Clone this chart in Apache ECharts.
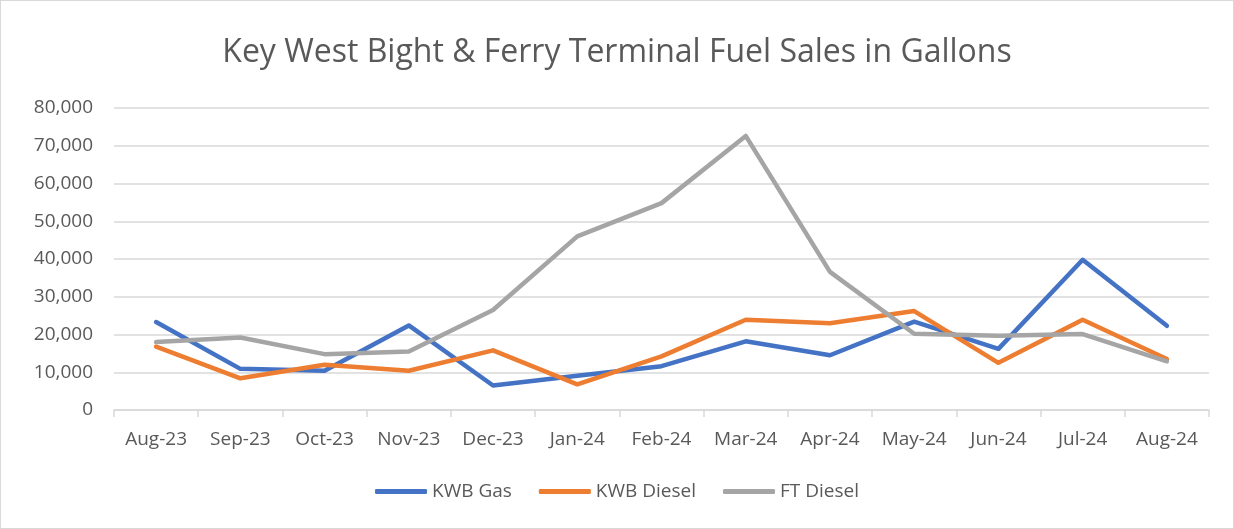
<!DOCTYPE html>
<html><head><meta charset="utf-8">
<script src="https://cdn.jsdelivr.net/npm/echarts@6/dist/echarts.min.js"></script>
<style>html,body{margin:0;padding:0;background:#fff}#c{width:1234px;height:529px;box-sizing:border-box;border:1px solid #d9d9d9}</style>
</head><body><div id="c"></div>
<script>
const categories = ['Aug-23','Sep-23','Oct-23','Nov-23','Dec-23','Jan-24','Feb-24','Mar-24','Apr-24','May-24','Jun-24','Jul-24','Aug-24'];
const kwbGas    = [23300,10900,10400,22400,6500,9100,11600,18200,14500,23400,16200,39800,22300];
const kwbDiesel = [16800,8400,12000,10400,15800,6800,14200,23900,23000,26200,12500,23900,13500];
const ftDiesel  = [18000,19200,14800,15500,26500,46000,54800,72600,36600,20200,19700,20100,12900];
const seriesNames = ['KWB Gas','KWB Diesel','FT Diesel'];
const colors = ['#4472c4','#ed7d31','#a5a5a5'];
const font = 'Open Sans, Noto Sans, sans-serif';
const chart = echarts.init(document.getElementById('c'));
const mk = (name, data, i) => ({name, type:'line', data, symbol:'none', smooth:false,
  lineStyle:{width:4.5, color:colors[i], cap:'round', join:'round'}, itemStyle:{color:colors[i]}});
chart.setOption({
  animation:false,
  title:{text:'Key West Bight & Ferry Terminal Fuel Sales in Gallons', left:'center', top:31,
    textStyle:{fontFamily:font, fontSize:32, fontWeight:'normal', color:'#595959'}},
  legend:{bottom:22, left:'center', itemWidth:52, itemHeight:5, itemGap:27, icon:'roundRect',
    textStyle:{fontFamily:font, fontSize:19, color:'#595959'}, data:seriesNames},
  grid:{left:113, right:24, top:107, bottom:118, containLabel:false},
  xAxis:{type:'category', data:categories, boundaryGap:true,
    axisLine:{lineStyle:{color:'#d9d9d9', width:1.5}},
    axisTick:{show:true, length:7, interval:0, lineStyle:{color:'#d9d9d9', width:1.5}},
    axisLabel:{fontFamily:font, fontSize:19, color:'#595959', margin:20, interval:0, hideOverlap:false}},
  yAxis:{type:'value', min:0, max:80000, interval:10000,
    axisLine:{show:false}, axisTick:{show:false},
    splitLine:{lineStyle:{color:'#d9d9d9', width:1.5}},
    axisLabel:{fontFamily:font, fontSize:19, color:'#595959', margin:21,
      formatter:v=>v.toLocaleString('en-US')}},
  series:[mk(seriesNames[0],kwbGas,0), mk(seriesNames[1],kwbDiesel,1), mk(seriesNames[2],ftDiesel,2)]
});
</script></body></html>
